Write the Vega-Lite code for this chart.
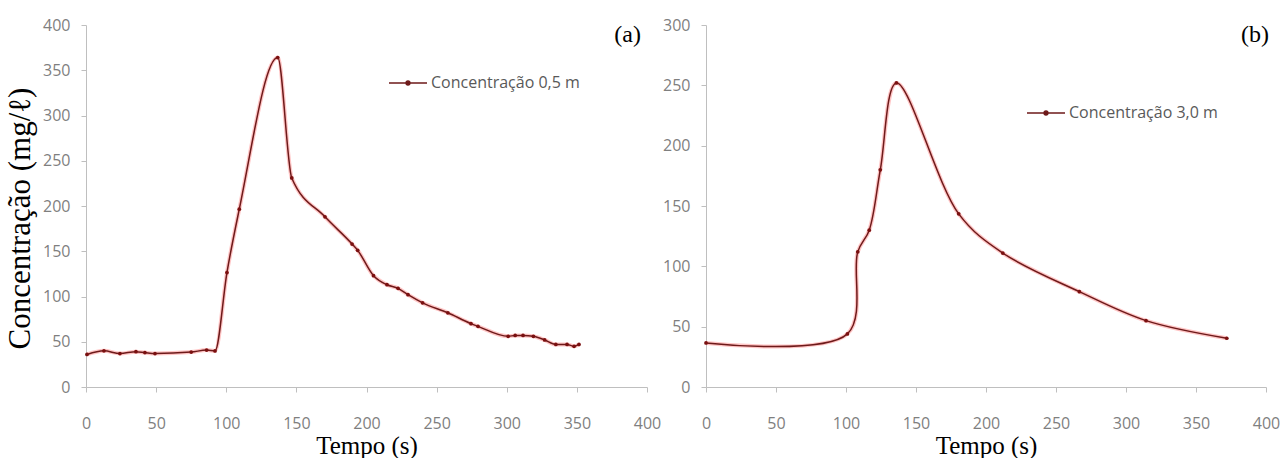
{
  "$schema": "https://vega.github.io/schema/vega-lite/v6.json",
  "background": "white",
  "padding": {"left": 4, "top": 17, "right": 0, "bottom": 0},
  "bounds": "flush",
  "spacing": 59,
  "config": {
    "view": {"stroke": null},
    "axis": {
      "grid": false,
      "domainColor": "#bfbfbf",
      "tickColor": "#bfbfbf",
      "tickSize": 5,
      "labelFont": "Open Sans",
      "labelFontSize": 16,
      "labelColor": "#7f7f7f",
      "titleFont": "Liberation Serif",
      "titleFontSize": 25,
      "titleFontWeight": "normal",
      "titleColor": "black"
    },
    "axisX": {"labelPadding": 23, "titlePadding": 2, "labelFlush": false},
    "axisY": {"labelPadding": 11, "titlePadding": 6}
  },
  "resolve": {"scale": {"color": "independent"}, "legend": {"color": "independent"}},
  "hconcat": [
    {
      "width": 561,
      "height": 362,
      "title": {"text": "(a)", "anchor": "end", "frame": "group", "offset": -30, "dx": -6, "font": "Liberation Serif", "fontSize": 24, "fontWeight": "normal", "color": "black"},
      "data": {"values": [
        {"t": 0.7, "c": 36, "serie": "Concentração 0,5 m"},
        {"t": 12.8, "c": 40, "serie": "Concentração 0,5 m"},
        {"t": 24.2, "c": 37, "serie": "Concentração 0,5 m"},
        {"t": 35.6, "c": 39, "serie": "Concentração 0,5 m"},
        {"t": 42, "c": 38, "serie": "Concentração 0,5 m"},
        {"t": 49.2, "c": 37, "serie": "Concentração 0,5 m"},
        {"t": 75, "c": 38.6, "serie": "Concentração 0,5 m"},
        {"t": 86, "c": 40.8, "serie": "Concentração 0,5 m"},
        {"t": 92, "c": 39.8, "serie": "Concentração 0,5 m"},
        {"t": 100.5, "c": 126.5, "serie": "Concentração 0,5 m"},
        {"t": 109.3, "c": 196.5, "serie": "Concentração 0,5 m"},
        {"t": 136.7, "c": 364, "serie": "Concentração 0,5 m"},
        {"t": 146.7, "c": 231, "serie": "Concentração 0,5 m"},
        {"t": 170.4, "c": 188, "serie": "Concentração 0,5 m"},
        {"t": 189.7, "c": 158, "serie": "Concentração 0,5 m"},
        {"t": 193.7, "c": 151, "serie": "Concentração 0,5 m"},
        {"t": 205, "c": 123, "serie": "Concentração 0,5 m"},
        {"t": 214.6, "c": 113, "serie": "Concentração 0,5 m"},
        {"t": 222.5, "c": 109, "serie": "Concentração 0,5 m"},
        {"t": 229.6, "c": 102, "serie": "Concentração 0,5 m"},
        {"t": 240, "c": 93, "serie": "Concentração 0,5 m"},
        {"t": 258, "c": 82, "serie": "Concentração 0,5 m"},
        {"t": 274.5, "c": 70, "serie": "Concentração 0,5 m"},
        {"t": 279.5, "c": 67, "serie": "Concentração 0,5 m"},
        {"t": 301, "c": 56, "serie": "Concentração 0,5 m"},
        {"t": 306, "c": 57, "serie": "Concentração 0,5 m"},
        {"t": 311.6, "c": 57, "serie": "Concentração 0,5 m"},
        {"t": 319, "c": 56, "serie": "Concentração 0,5 m"},
        {"t": 327, "c": 52, "serie": "Concentração 0,5 m"},
        {"t": 335, "c": 47, "serie": "Concentração 0,5 m"},
        {"t": 343, "c": 47, "serie": "Concentração 0,5 m"},
        {"t": 348, "c": 45, "serie": "Concentração 0,5 m"},
        {"t": 351.5, "c": 47, "serie": "Concentração 0,5 m"}
      ]},
      "encoding": {
        "x": {"field": "t", "type": "quantitative", "scale": {"domain": [0, 400], "nice": false}, "axis": {"values": [0, 50, 100, 150, 200, 250, 300, 350, 400], "title": "Tempo (s)"}},
        "y": {"field": "c", "type": "quantitative", "scale": {"domain": [0, 400], "nice": false}, "axis": {"values": [0, 50, 100, 150, 200, 250, 300, 350, 400], "title": "Concentração (mg/ℓ)", "titleY": 193, "titleFontSize": 31}}
      },
      "layer": [
        {"mark": {"type": "line", "interpolate": "monotone", "color": "#ff4040", "strokeWidth": 4, "opacity": 0.3}},
        {
          "mark": {"type": "line", "interpolate": "monotone", "strokeWidth": 1.5},
          "encoding": {
            "color": {
              "field": "serie", "type": "nominal",
              "scale": {"range": ["#6e1a1a"]},
              "legend": {
                "title": null, "orient": "none", "legendX": 302, "legendY": 38, "padding": 0,
                "symbolType": "M-1,0L1,0M0.1,0A0.1,0.1 0 1,1 -0.1,0A0.1,0.1 0 1,1 0.1,0Z",
                "symbolSize": 1444, "symbolStrokeWidth": 1.5, "symbolStrokeColor": "#6e1a1a", "symbolFillColor": "#6e1a1a",
                "labelFont": "Open Sans", "labelFontSize": 16, "labelColor": "#595959", "labelOffset": 3,
                "encode": {"symbols": {"update": {"fill": {"value": "#6e1a1a"}, "stroke": {"value": "#6e1a1a"}}}}
              }
            }
          }
        },
        {"mark": {"type": "point", "filled": true, "size": 14, "color": "#7a1010", "opacity": 1}}
      ]
    },
    {
      "width": 560,
      "height": 362,
      "title": {"text": "(b)", "anchor": "end", "frame": "group", "offset": -30, "dx": 3, "font": "Liberation Serif", "fontSize": 24, "fontWeight": "normal", "color": "black"},
      "data": {"values": [
        {"t": 0, "c": 36.5, "serie": "Concentração 3,0 m"},
        {"t": 101, "c": 44, "serie": "Concentração 3,0 m"},
        {"t": 108.4, "c": 112, "serie": "Concentração 3,0 m"},
        {"t": 116.6, "c": 130, "serie": "Concentração 3,0 m"},
        {"t": 124.5, "c": 180, "serie": "Concentração 3,0 m"},
        {"t": 136, "c": 252, "serie": "Concentração 3,0 m"},
        {"t": 180.5, "c": 143.5, "serie": "Concentração 3,0 m"},
        {"t": 212, "c": 111, "serie": "Concentração 3,0 m"},
        {"t": 266.7, "c": 79, "serie": "Concentração 3,0 m"},
        {"t": 314.3, "c": 55, "serie": "Concentração 3,0 m"},
        {"t": 372, "c": 40.4, "serie": "Concentração 3,0 m"}
      ]},
      "encoding": {
        "x": {"field": "t", "type": "quantitative", "scale": {"domain": [0, 400], "nice": false}, "axis": {"values": [0, 50, 100, 150, 200, 250, 300, 350, 400], "title": "Tempo (s)"}},
        "y": {"field": "c", "type": "quantitative", "scale": {"domain": [0, 300], "nice": false}, "axis": {"values": [0, 50, 100, 150, 200, 250, 300], "title": null}}
      },
      "layer": [
        {"mark": {"type": "line", "interpolate": "catmull-rom", "color": "#ff4040", "strokeWidth": 4, "opacity": 0.3}},
        {
          "mark": {"type": "line", "interpolate": "catmull-rom", "strokeWidth": 1.5},
          "encoding": {
            "color": {
              "field": "serie", "type": "nominal",
              "scale": {"range": ["#6e1a1a"]},
              "legend": {
                "title": null, "orient": "none", "legendX": 320, "legendY": 68, "padding": 0,
                "symbolType": "M-1,0L1,0M0.1,0A0.1,0.1 0 1,1 -0.1,0A0.1,0.1 0 1,1 0.1,0Z",
                "symbolSize": 1444, "symbolStrokeWidth": 1.5, "symbolStrokeColor": "#6e1a1a", "symbolFillColor": "#6e1a1a",
                "labelFont": "Open Sans", "labelFontSize": 16, "labelColor": "#595959", "labelOffset": 3,
                "encode": {"symbols": {"update": {"fill": {"value": "#6e1a1a"}, "stroke": {"value": "#6e1a1a"}}}}
              }
            }
          }
        },
        {"mark": {"type": "point", "filled": true, "size": 14, "color": "#7a1010", "opacity": 1}}
      ]
    }
  ]
}
